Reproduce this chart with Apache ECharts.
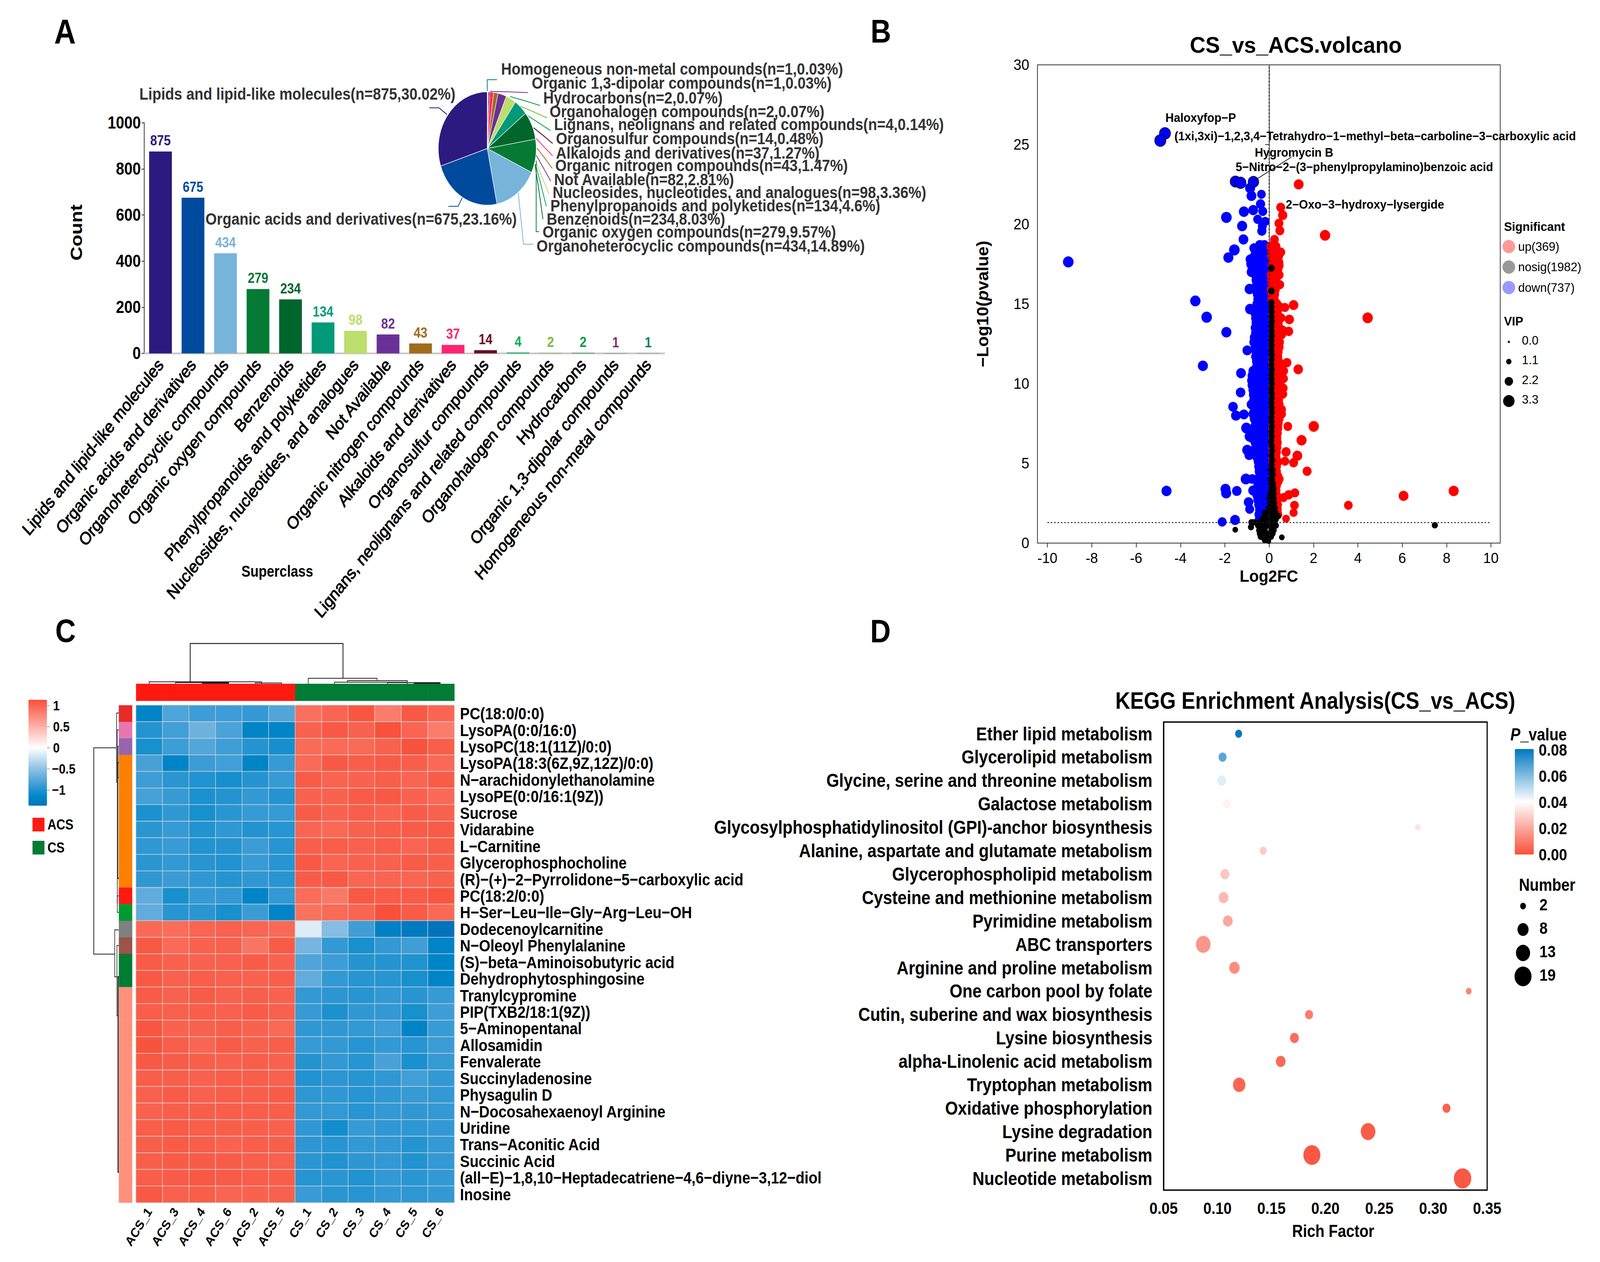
<!DOCTYPE html>
<html><head><meta charset="utf-8"><title>Metabolomics panels</title>
<script src="https://cdn.jsdelivr.net/npm/echarts@6/dist/echarts.min.js"></script>
<style>
html,body{margin:0;padding:0;background:#fff;overflow:hidden;width:100%;height:100%}
#tall{position:absolute;left:0;top:0;width:4282px;transform-origin:0 0}
#plain{position:absolute;left:0;top:0;width:4282px;height:3230px;transform-origin:0 0}
</style></head><body>
<div id="tall"></div><div id="plain"></div>
<script>
// ---------- Panel A ----------
const superclasses = ['Lipids and lipid-like molecules','Organic acids and derivatives','Organoheterocyclic compounds','Organic oxygen compounds','Benzenoids','Phenylpropanoids and polyketides','Nucleosides, nucleotides, and analogues','Not Available','Organic nitrogen compounds','Alkaloids and derivatives','Organosulfur compounds','Lignans, neolignans and related compounds','Organohalogen compounds','Hydrocarbons','Organic 1,3-dipolar compounds','Homogeneous non-metal compounds'];
const superCounts = [875,675,434,279,234,134,98,82,43,37,14,4,2,2,1,1];
const superPercents = ['30.02','23.16','14.89','9.57','8.03','4.6','3.36','2.81','1.47','1.27','0.48','0.14','0.07','0.07','0.03','0.03'];
const superColors = ['#2C1A80','#004A9E','#78B4DA','#047A35','#00662C','#009A78','#BDDD6C','#6B3097','#A06C1C','#FF2470','#6D0B24','#00B050','#7CBB3C','#009A44','#8E2A6F','#007E6A'];
// ---------- Panel C ----------
const heatSamples = ['ACS_1','ACS_3','ACS_4','ACS_6','ACS_2','ACS_5','CS_1','CS_2','CS_3','CS_4','CS_5','CS_6'];
const heatMetabolites = ['PC(18:0/0:0)','LysoPA(0:0/16:0)','LysoPC(18:1(11Z)/0:0)','LysoPA(18:3(6Z,9Z,12Z)/0:0)','N−arachidonylethanolamine','LysoPE(0:0/16:1(9Z))','Sucrose','Vidarabine','L−Carnitine','Glycerophosphocholine','(R)−(+)−2−Pyrrolidone−5−carboxylic acid','PC(18:2/0:0)','H−Ser−Leu−Ile−Gly−Arg−Leu−OH','Dodecenoylcarnitine','N−Oleoyl Phenylalanine','(S)−beta−Aminoisobutyric acid','Dehydrophytosphingosine','Tranylcypromine','PIP(TXB2/18:1(9Z))','5−Aminopentanal','Allosamidin','Fenvalerate','Succinyladenosine','Physagulin D','N−Docosahexaenoyl Arginine','Uridine','Trans−Aconitic Acid','Succinic Acid','(all−E)−1,8,10−Heptadecatriene−4,6−diyne−3,12−diol','Inosine'];
const heatValues = [
[-1.18,-.79,-.87,-.87,-.91,-.78,.93,1,1.1,.85,1.08,1],
[-.98,-.85,-.65,-.81,-1.18,-1.18,1.02,1.08,1.02,1.13,1,.85],
[-1.04,-.87,-.77,-.86,-.98,-1.05,.97,.97,.97,1.03,1.12,1.05],
[-.83,-1.18,-.88,-.85,-1.18,-.9,.97,1.08,1.05,1.06,1.04,.98],
[-.87,-.96,-1,-1.05,-.98,-.9,1.06,1.01,1.02,1.05,1,1.06],
[-.83,-.9,-1.02,-.98,-.92,-.98,1.02,1.02,1.06,1.08,1.02,.98],
[-1.02,-.93,-1.04,-.96,-.9,-.9,1.06,1.02,1.05,1.01,1.06,1.03],
[-.96,-.9,-1,-.93,-1,-.97,1,.98,1.03,1.05,1.06,1.07],
[-.93,-.89,-1,-.98,-.88,-.97,1.05,1.05,1.03,1.05,1,1.05],
[-.96,-.92,-.97,-1,-.89,-.97,1.08,1,1.03,1.03,1.07,1.04],
[-.93,-.88,-.93,-.98,-.93,-.97,1.06,1.08,1,1.01,1,1.03],
[-.71,-1.04,-.9,-.92,-1.18,-.92,.95,.87,1.08,1.06,1.06,1.1],
[-.71,-.97,-.96,-1.04,-.88,-1.2,.92,.97,1,1.15,1.07,.98],
[.98,.95,1,1.03,1,.98,-.15,-.54,-.86,-1.22,-1.28,-1.37],
[1.08,.97,1.02,1.03,.9,1.07,-.62,-.92,-1.04,-.92,-.86,-1.2],
[1.07,1.03,1.02,1.03,1.06,1.02,-.79,-.87,-.98,-.98,-1,-1.18],
[1.08,1.03,1.05,1.03,1.02,1.04,-.71,-.92,-.97,-.97,-1.04,-1.18],
[1.07,1.03,1.07,1.03,1.04,1.03,-.92,-.95,-.97,-.92,-.97,-.9],
[1.05,1.03,1.05,1.03,1.07,1.03,-.9,-1.02,-.93,-.92,-1.04,-.87],
[1.1,1.02,1.03,1.04,1.02,.98,-.93,-.93,-.92,-.87,-1.18,-.89],
[1.12,1.05,1,1.06,1.03,1.05,-.9,-.92,-.97,-.92,-.97,-.88],
[1.08,1.06,1.05,1.02,1.05,1.03,-.98,-.92,-.97,-.82,-1.03,-.9],
[1.04,1.04,1.03,1.05,1.05,1.03,-1,-.95,-.97,-.93,-.85,-.92],
[1.03,1.06,1.03,1.05,1.04,1.07,-.94,-.93,-.97,-.93,-.9,-.92],
[1.02,1.04,1.04,1.05,1.05,1.05,-.92,-.92,-.97,-.92,-.93,-.92],
[1.05,1.07,1.05,1.04,1.04,1.03,-.93,-1.06,-.9,-.93,-.94,-.92],
[1.04,1.07,1.05,1.02,1.05,1.04,-.94,-.97,-.92,-.92,-.98,-.91],
[1.04,1.07,1.06,1.06,1.04,1.03,-.96,-1,-.94,-.92,-1,-.92],
[1.05,1.06,1.08,1.06,1.05,1.04,-.97,-.96,-1,-.92,-.96,-.92],
[1.08,1.03,1.05,1,1.02,1.03,-.89,-.96,-.97,-.92,-.94,-.92]];
const rowClassColors = ['#E82A28','#E875AE','#9566AD','#FF7F00','#FF7F00','#FF7F00','#FF7F00','#FF7F00','#FF7F00','#FF7F00','#FF7F00','#FF1A10','#009A2F','#808080','#9A5548','#007C35','#007C35','#FF917A','#FF917A','#FF917A','#FF917A','#FF917A','#FF917A','#FF917A','#FF917A','#FF917A','#FF917A','#FF917A','#FF917A','#FF917A'];
const colClassColors = ['#FF1A10','#FF1A10','#FF1A10','#FF1A10','#FF1A10','#FF1A10','#007C35','#007C35','#007C35','#007C35','#007C35','#007C35'];
const heatTicks = [1,0.5,0,-0.5,-1];
const heatRamp = ['#0073BD','#0088CA','#3399D4','#66AEDD','#99C6E6','#CCE2F2','#FFFFFF','#FEDCD8','#FCB9B0','#FB9689','#F97361','#F8503A'];
// ---------- Panel D ----------
const pathways = ['Ether lipid metabolism','Glycerolipid metabolism','Glycine, serine and threonine metabolism','Galactose metabolism','Glycosylphosphatidylinositol (GPI)-anchor biosynthesis','Alanine, aspartate and glutamate metabolism','Glycerophospholipid metabolism','Cysteine and methionine metabolism','Pyrimidine metabolism','ABC transporters','Arginine and proline metabolism','One carbon pool by folate','Cutin, suberine and wax biosynthesis','Lysine biosynthesis','alpha-Linolenic acid metabolism','Tryptophan metabolism','Oxidative phosphorylation','Lysine degradation','Purine metabolism','Nucleotide metabolism'];
const richFactor = [.1196,.1047,.1039,.1087,.2856,.1424,.1069,.1056,.1096,.0868,.1157,.3329,.1849,.1713,.1586,.1201,.3123,.2396,.1875,.3272];
const pathwayNumber = [3,4,5,4,2,3,5,6,6,14,7,2,4,5,6,10,4,14,19,20];
const pathwayP = [.08,.066,.045,.037,.034,.028,.027,.024,.02,.016,.014,.012,.01,.007,.006,.005,.004,.003,.002,.002];
const richTicks = [2,8,13,19];
const pTicks = ['0.08','0.06','0.04','0.02','0.00'];
// ---------- Panel B : [log2FC, -log10(p), VIP (optional)] ----------
const volcanoLabelled = [[-4.7,25.7,3.2],[-4.91,25.25,3.2],[-1.52,22.68,3],[-1.29,22.6,3.1],[-.71,22.66,3]];
const volcanoDownSparse = [[-9.06,17.64,3],[-3.33,15.19,2.9],[-2.82,14.17,3],[-1.93,13.23,2.8],[-2.99,11.12,2.8],[-4.63,3.27,2.8],[-1.93,20.43,3],[-1.22,19.89,2.8],[-1.14,20.79,2.8],[-.72,20.89,2.7],[-1.16,19.05,2.7],[-1.57,18.39,3],[-1.84,17.91,2.8],[-.35,21.88,2.3],[-.86,22.27,2.8],[-.8,21.78,2.7],[-.39,21.27,2.5],[-.29,20.81,2.4],[-.52,20.31,2.4],[-.18,20.18,2.3],[-.31,19.87,2.4],[-.33,19.58,2.5],[-.88,15.94,2.8],[-.86,14.68,2.8],[-.99,12.09,2.6],[-1.27,10.66,2.7],[-1.29,9.45,2.6],[-1.63,8.55,2.6],[-1.5,8,2.7],[-1.14,8.07,2.6],[-1.03,7.22,2.9],[-.88,6.69,2.8],[-.99,5.84,2.8],[-.9,5.52,2.6],[-1.05,4.02,2.9],[-.76,4.02,2.5],[-1.97,3.39,2.8],[-1.94,3.13,2.8],[-1.46,3.27,2.6],[-2.12,1.33,2.4],[-1.54,1.45,2.7],[-.93,2.57,2.6],[-.88,2.13,2.4],[-.73,3.3,2.6],[-.25,4.4,2.5]];
const volcanoDownDense = [[-.42,18.7],[-.22,18.7],[-.68,18.5],[-.5,18.5],[-.2,18.5],[-.6,18.3],[-.38,18.3],[-.15,18.3],[-.66,18],[-.42,18],[-.14,18],[-.85,17.8],[-.5,17.8],[-.16,17.8],[-.82,17.5],[-.45,17.5],[-.15,17.5],[-.76,17.2],[-.4,17.2],[-.14,17.2],[-.8,17],[-.48,17],[-.16,17],[-.6,16.8],[-.36,16.8],[-.14,16.8],[-.58,16.5],[-.33,16.5],[-.13,16.5],[-.56,16.2],[-.34,16.2],[-.15,16.2],[-.62,15.9],[-.38,15.9],[-.14,15.9],[-.52,15.6],[-.33,15.6],[-.13,15.6],[-.5,15.3],[-.3,15.3],[-.14,15.3],[-.54,15],[-.32,15],[-.13,15],[-.58,14.7],[-.34,14.7],[-.15,14.7],[-.62,14.4],[-.36,14.4],[-.13,14.4],[-.6,14.1],[-.37,14.1],[-.14,14.1],[-.58,13.8],[-.33,13.8],[-.14,13.8],[-.62,13.5],[-.38,13.5],[-.15,13.5],[-.6,13.2],[-.36,13.2],[-.13,13.2],[-.66,12.9],[-.4,12.9],[-.14,12.9],[-.68,12.6],[-.42,12.6],[-.15,12.6],[-.62,12.3],[-.37,12.3],[-.14,12.3],[-.58,12],[-.34,12],[-.13,12],[-.6,11.7],[-.36,11.7],[-.15,11.7],[-.56,11.4],[-.33,11.4],[-.14,11.4],[-.55,11.1],[-.35,11.1],[-.13,11.1],[-.72,10.8],[-.42,10.8],[-.15,10.8],[-.76,10.5],[-.44,10.5],[-.16,10.5],[-.78,10.2],[-.46,10.2],[-.15,10.2],[-.76,9.9],[-.42,9.9],[-.14,9.9],[-.72,9.6],[-.44,9.6],[-.15,9.6],[-.7,9.3],[-.4,9.3],[-.14,9.3],[-.68,9],[-.38,9],[-.15,9],[-.8,8.7],[-.46,8.7],[-.16,8.7],[-.66,8.4],[-.38,8.4],[-.14,8.4],[-.72,8.1],[-.4,8.1],[-.15,8.1],[-.66,7.8],[-.36,7.8],[-.13,7.8],[-.6,7.5],[-.34,7.5],[-.14,7.5],[-.7,7.2],[-.38,7.2],[-.14,7.2],[-.82,6.9],[-.44,6.9],[-.15,6.9],[-.78,6.6],[-.4,6.6],[-.14,6.6],[-.62,6.3],[-.36,6.3],[-.13,6.3],[-.6,6],[-.35,6],[-.14,6],[-.58,5.7],[-.33,5.7],[-.13,5.7],[-.55,5.4],[-.3,5.4],[-.13,5.4],[-.48,5.1],[-.28,5.1],[-.12,5.1],[-.46,4.8],[-.27,4.8],[-.11,4.8],[-.44,4.5],[-.26,4.5],[-.1,4.5],[-.42,4.2],[-.25,4.2],[-.11,4.2],[-.46,3.9],[-.26,3.9],[-.12,3.9],[-.5,3.6],[-.28,3.6],[-.13,3.6],[-.56,3.3],[-.3,3.3],[-.15,3.3],[-.54,3],[-.3,3],[-.16,3],[-.5,2.7],[-.28,2.7],[-.16,2.7],[-.46,2.4],[-.25,2.4],[-.18,2.4],[-.42,2.1],[-.25,2.1],[-.45,1.8],[-.3,1.8],[-.43,1.5]];
const volcanoUpSparse = [[1.33,22.5,2.7],[.52,21.06,2.4],[.61,20.57,2.5],[.44,20.06,2.4],[.48,19.6,2.4],[2.52,19.31,2.9],[.24,19.05,2.3],[.52,18.25,2.4],[.44,17.59,2.4],[.46,16.82,2.2],[.48,16.21,2.3],[1.1,14.93,2.6],[.71,14.78,2.3],[.5,14.8,2.3],[4.44,14.13,2.9],[.91,14.03,2.5],[.54,14.13,2.3],[.88,13.28,2.4],[.61,13.35,2.4],[.56,13.08,2.4],[.8,11.32,2.4],[1.31,10.9,2.6],[.65,10.8,2.4],[.65,10.32,2.3],[.63,9.72,2.4],[.61,9.35,2.4],[.56,8.38,2.3],[.56,8.09,2.3],[2.01,7.32,2.9],[.84,7.32,2.3],[1.46,6.45,2.8],[.76,5.72,2.5],[1.27,5.48,2.7],[.71,5.14,2.3],[1.1,5.04,2.4],[1.71,4.51,2.4],[.46,4.02,2.2],[1.16,3.15,2.3],[.88,3.03,2.4],[.65,2.86,2.3],[8.32,3.27,2.8],[6.06,2.96,2.7],[3.57,2.37,2.3],[1.14,2.37,2.3],[1.1,1.91,2.1],[.76,1.53,1.9]];
const volcanoUpDense = [[.1,18.6],[.28,18.6],[.16,18.3],[.36,18.3],[.14,18],[.4,18],[.2,17.7],[.38,17.7],[.16,17.4],[.42,17.4],[.18,17.1],[.36,17.1],[.12,16.8],[.3,16.8],[.14,16.5],[.28,16.5],[.16,16.2],[.3,16.2],[.12,15.9],[.25,15.9],[.16,15.6],[.22,15.6],[.15,15.3],[.2,15.3],[.2,15],[.32,15],[.2,14.7],[.38,14.7],[.18,14.4],[.34,14.4],[.2,14.1],[.4,14.1],[.22,13.8],[.38,13.8],[.2,13.5],[.42,13.5],[.22,13.2],[.45,13.2],[.2,12.9],[.4,12.9],[.22,12.6],[.44,12.6],[.2,12.3],[.42,12.3],[.22,12],[.38,12],[.2,11.7],[.36,11.7],[.18,11.4],[.4,11.4],[.2,11.1],[.44,11.1],[.22,10.8],[.48,10.8],[.2,10.5],[.46,10.5],[.22,10.2],[.5,10.2],[.2,9.9],[.44,9.9],[.22,9.6],[.48,9.6],[.2,9.3],[.42,9.3],[.22,9],[.4,9],[.2,8.7],[.42,8.7],[.22,8.4],[.44,8.4],[.2,8.1],[.46,8.1],[.2,7.8],[.42,7.8],[.2,7.5],[.38,7.5],[.18,7.2],[.36,7.2],[.2,6.9],[.34,6.9],[.18,6.6],[.32,6.6],[.2,6.3],[.34,6.3],[.18,6],[.32,6],[.2,5.7],[.3,5.7],[.18,5.4],[.28,5.4],[.2,5.1],[.36,5.1],[.2,4.8],[.3,4.8],[.22,4.5],[.3,4.5],[.24,4.2],[.36,4.2],[.24,3.9],[.38,3.9],[.26,3.6],[.3,3.6],[.28,3.3],[.3,3],[.32,2.7],[.28,2.7],[.35,2.4],[.34,2.1],[.36,1.8]];
const volcanoNosig = [[.1,17.25,1.6],[.1,15.82,1.6],[7.47,1.12,1.4],[.1,15.1],[.1,14.8],[.11,14.5],[.1,14.2],[.12,13.9],[.1,13.6],[.11,13.3],[.12,13],[.1,12.7],[.11,12.4],[.1,12.1],[.12,11.8],[.11,11.5],[.1,11.2],[.12,10.9],[.1,10.6],[.11,10.3],[.12,10],[.1,9.7],[.11,9.4],[.12,9.1],[.1,8.8],[.11,8.5],[.12,8.2],[.1,7.9],[.11,7.6],[.12,7.3],[.1,7],[.11,6.7],[.09,6.4],[.12,6.1],[.13,5.8],[.1,5.5],[.14,5.2],[.11,4.9],[.15,4.6],[.08,4.6],[.12,4.3],[.16,4.3],[.13,4],[.07,4],[.18,3.7],[.1,3.7],[.1,3.4],[.2,3.4],[.14,3.1],[.05,3.1],[.2,3.1],[.12,2.8],[.02,2.8],[.2,2.8],[.15,2.5],[.05,2.5],[.22,2.5],[.18,2.2],[0,2.2],[.25,2.2],[-.05,1.9],[.1,1.9],[.28,1.9],[-.2,1.9],[-.2,1.7],[.3,1.7],[.1,1.7],[.4,1.7],[-.3,1.5],[-.1,1.5],[.15,1.5],[.3,1.5],[-.8,1.3],[-.7,1.3],[-.45,1.3],[-.2,1.3],[.05,1.3],[.25,1.3],[-.5,1.1],[-.3,1.1],[-.05,1.1],[.2,1.1],[.3,1.1],[-.82,1],[-.45,.8],[-.2,.8],[.1,.8],[.2,.8],[-1.53,.84,1.2],[-.42,.6],[-.15,.6],[.05,.6],[.15,.6],[-.38,.4],[-.1,.4],[.08,.4],[.57,.36,1.2],[-.2,.2],[-.05,.2],[-.02,.1,.9]];
const fcTicks = [-10,-8,-6,-4,-2,0,2,4,6,8,10];
const vipTicks = [0,1.1,2.2,3.3];
const sigLegend = ['up(369)','nosig(1982)','down(737)'];
const sigColors = ['#FF9999','#999999','#9999FF'];

// ---------- layout helpers ----------
// Layout is written in the figure's 4282-wide pixels; the window may be narrower, so fit it.
const FIT_X = window.innerWidth / 4282;
const STRETCH = 1.107;              // A, C and D are taller than wide in the source figure
const FONT = '"Liberation Sans",Arial,sans-serif';
const Y = v => v / STRETCH;
const tallEl = document.getElementById('tall'), plainEl = document.getElementById('plain');
tallEl.style.height = Y(3230) + 'px';
tallEl.style.transform = `scale(${FIT_X},${STRETCH})`;
plainEl.style.transform = `scale(${FIT_X},1)`;
const T = (text, x, y, o = {}, toY = Y) => ({type:'text', x, y:toY(y), rotation:o.rot || 0, z:20,
  style:{text, fill:o.color || '#000', textAlign:o.align || 'left', textVerticalAlign:'middle',
    font:`${o.style||''} ${o.weight||'bold'} ${o.size||40}px ${FONT}`, rich:o.rich}});
const L = (pts, o = {}, toY = Y) => ({type:'polyline', z:15, shape:{points:pts.map(p => [p[0], toY(p[1])])},
  style:{stroke:o.color || '#222', fill:null, lineWidth:o.w || 1.6}});
const R = (x, y, w, h, color) => ({type:'rect', z:10, shape:{x, y:Y(y), width:w, height:Y(h)}, style:{fill:color}});
const C = (cx, cy, r, color, toY = Y) => ({type:'circle', z:10, shape:{cx, cy:toY(cy), r}, style:{fill:color}});

// ---------- stretched chart : panels A, C, D ----------
const gridA = {left:386, top:Y(314), width:1392, height:Y(590.5)};
const heatBox = {x:364, y:1805, w:852, h:1273};
const gridC = {left:heatBox.x, top:Y(heatBox.y), width:heatBox.w, height:Y(heatBox.h)};
const gridD = {left:3114, top:Y(1848), width:866, height:Y(1198), show:true, borderColor:'#000', borderWidth:3, backgroundColor:'transparent'};

const pieLayout = { // label left x, label centre y, leader line in figure pixels
  'Homogeneous non-metal compounds':[1341,176,[[1304,233],[1304,204],[1330,204]]],
  'Organic 1,3-dipolar compounds':[1423,212,[[1310,234],[1360,235],[1413,237]]],
  'Hydrocarbons':[1454,250,[[1365,247],[1405,258],[1445,270]]],
  'Organohalogen compounds':[1471,285,[[1393,272],[1430,287],[1464,302]]],
  'Lignans, neolignans and related compounds':[1483,318,[[1414,297],[1444,316],[1473,334]]],
  'Organosulfur compounds':[1488,354,[[1428,327],[1454,347],[1479,367]]],
  'Alkaloids and derivatives':[1488,391,[[1435,354],[1457,377],[1479,399]]],
  'Organic nitrogen compounds':[1486,423,[[1437,379],[1458,405],[1478,431]]],
  'Not Available':[1483,459,[[1435,397],[1455,431],[1474,464]]],
  'Nucleosides, nucleotides, and analogues':[1479,492,[[1435,415],[1452,456],[1469,496]]],
  'Phenylpropanoids and polyketides':[1473,526,[[1433,420],[1448,474],[1462,528]]],
  'Benzenoids':[1463,560,[[1432,422],[1443,492],[1453,561]]],
  'Organic oxygen compounds':[1452,593,[[1435,411],[1435,593],[1443,593]]],
  'Organoheterocyclic compounds':[1436,629,[[1387,493],[1401,625],[1427,625]]],
  'Organic acids and derivatives':[550,560,[[1237,506],[1226,528],[1200,528]]],
  'Lipids and lipid-like molecules':[373,240,[[1196,293],[1175,276],[1149,276]]]
};
const pieData = superclasses.map((name,i)=>({name, value:superCounts[i], pct:superPercents[i], itemStyle:{color:superColors[i]}})).reverse();

const heatData = [];
heatValues.forEach((row,r)=>row.forEach((v,c)=>heatData.push([c,r,v])));

const rowH = heatBox.h / heatMetabolites.length, colW = heatBox.w / heatSamples.length;
const heatTickY = v => 1914 - v * 108;
const numSize = n => 10.2 * Math.sqrt(n) + 1;

const tallGraphic = [
  T('A',145,82,{size:80}), T('B',2330,80,{size:76}), T('C',148,1614,{size:76}), T('D',2329,1615,{size:76}),
  T('Count',204,595,{size:45,rot:Math.PI/2,align:'center'}),
  T('Superclass',742,1462,{size:36,align:'center'}),
  // panel C annotation strips
  ...rowClassColors.map((c,i)=>R(318, heatBox.y + i*rowH, 36, rowH+.5, c)),
  ...colClassColors.map((c,i)=>R(heatBox.x + i*colW, 1750, colW+.5, 44, c)),
  // panel C dendrograms
  L([[509,1744],[509,1647],[918,1647],[918,1737]],{w:2.2}),
  L([[399,1750],[399,1745],[700,1745],[700,1750]]), L([[470,1750],[470,1747],[612,1747],[612,1750]]), L([[541,1750],[541,1749],[612,1749]]), L([[683,1750],[683,1748],[754,1748],[754,1750]]),
  L([[825,1750],[825,1736],[1009,1736],[1009,1743]]), L([[895,1750],[895,1746],[1090,1746],[1090,1750]]), L([[930,1746],[930,1742],[1090,1742],[1090,1746]]), L([[1037,1750],[1037,1747],[1178,1747],[1178,1750]]), L([[1108,1750],[1108,1749],[1178,1749]]),
  L([[311,1914],[251,1914],[251,2442],[308,2442]],{w:2}),
  L([[318,1825],[312,1825],[312,2003]]), L([[318,1868],[314,1868],[314,2138]]), L([[318,1910],[316,1910],[316,1990],[318,1990]]), L([[318,1952],[315,1952],[315,2248],[318,2248]],{w:2.6,color:'#222'}),
  L([[318,2293],[314,2293],[314,2335],[318,2335]]), L([[314,2138],[314,2314]]),
  L([[318,2380],[307,2380],[307,2500],[313,2500]]), L([[318,2420],[313,2420],[313,2600],[316,2600]]), L([[318,2500],[316,2500],[316,3000],[318,3000]],{w:2.6,color:'#111'}),
  // panel C legend
  ...heatTicks.map(v=>T(String(v).replace('-','−'),v<0?139:142,heatTickY(v),{size:32})),
  ...heatTicks.map(v=>L([[126,heatTickY(v)],[133,heatTickY(v)]],{color:'#999'})),
  R(87,2093,32,35,'#FF1A10'), R(87,2152,32,35,'#007C35'),
  T('ACS',127,2110,{size:33}), T('CS',127,2169,{size:33}),
  // panel D axis title and legends
  T('Rich Factor',3568,3151,{size:40,align:'center'}),
  T('{i|P}_value',4042,1880,{size:40,rich:{i:{fontStyle:'italic',fontWeight:'bold',fontSize:40,fontFamily:FONT}}}),
  ...pTicks.map((s,i)=>T(s,4118,1919.5+i*67,{size:39})),
  ...pTicks.map((s,i)=>L([[4105,1919+i*67],[4112,1919+i*67]],{color:'#fff'})),
  T('Number',4065,2265,{size:40}),
  ...richTicks.map((n,i)=>C(4076,2319+i*60,numSize(n)/2,'#000')),
  ...richTicks.map((n,i)=>T(String(n),4120,2315+i*60,{size:39}))
];

const tallOption = {
  animation:false, backgroundColor:'transparent', textStyle:{fontFamily:FONT},
  title:{text:'KEGG Enrichment Analysis(CS_vs_ACS)', left:3520, top:Y(1793)-28, textAlign:'center', padding:0,
    textStyle:{fontSize:55,fontWeight:'bold',color:'#000',fontFamily:FONT}},
  grid:[gridA,gridC,gridD],
  xAxis:[
    {gridIndex:0,type:'category',data:superclasses,
      axisLine:{lineStyle:{color:'#c8c8c8',width:4}},axisTick:{alignWithLabel:true,length:8,lineStyle:{color:'#333',width:2}},
      axisLabel:{interval:0,rotate:47.5,fontSize:40.5,margin:19,color:'#000',fontFamily:FONT,textBorderColor:'#000',textBorderWidth:1.3}},
    {gridIndex:1,type:'category',data:heatSamples,axisLine:{show:false},axisTick:{show:false},splitLine:{show:false},
      axisLabel:{interval:0,rotate:55,fontSize:31,fontWeight:'bold',margin:15,color:'#000',fontFamily:FONT}},
    {gridIndex:2,type:'value',min:.05,max:.35,interval:.05,splitLine:{show:false},
      axisLine:{lineStyle:{color:'#000',width:3}},axisTick:{length:10,lineStyle:{color:'#444',width:2}},
      axisLabel:{fontSize:39,fontWeight:'bold',color:'#000',margin:22,formatter:v=>v.toFixed(2),fontFamily:FONT}}
  ],
  yAxis:[
    {gridIndex:0,type:'value',min:0,max:1000,interval:200,splitLine:{show:false},
      axisLine:{show:true,lineStyle:{color:'#333',width:2}},axisTick:{show:true,length:7,lineStyle:{color:'#333',width:2}},
      axisLabel:{fontSize:40,fontWeight:'bold',color:'#000',margin:9,fontFamily:FONT,formatter:v=>String(v)}},
    {gridIndex:1,type:'category',data:heatMetabolites,inverse:true,position:'right',axisLine:{show:false},axisTick:{show:false},splitLine:{show:false},
      axisLabel:{interval:0,fontSize:39,fontWeight:'bold',color:'#000',margin:15,fontFamily:FONT}},
    {gridIndex:2,type:'category',data:pathways,inverse:true,splitLine:{show:false},
      axisLine:{show:true,lineStyle:{color:'#000',width:3}},axisTick:{alignWithLabel:true,length:14,lineStyle:{color:'#777',width:2}},
      axisLabel:{interval:0,fontSize:44,fontWeight:'bold',color:'#000',margin:30,fontFamily:FONT}}
  ],
  visualMap:[
    {type:'continuous',seriesIndex:2,dimension:2,min:-1.37,max:1.14,left:76,top:Y(1791),itemWidth:50,itemHeight:Y(271),padding:0,
      inRange:{color:heatRamp},calculable:false,hoverLink:false,text:null,showLabel:false,textStyle:{color:'transparent'}},
    {type:'continuous',seriesIndex:3,dimension:3,min:0,max:.08,left:4054,top:Y(1917),itemWidth:51,itemHeight:Y(270),padding:0,
      inRange:{color:['#F9503A','#FFFFFF','#0078C0']},calculable:false,hoverLink:false,text:null,textStyle:{color:'transparent'}}
  ],
  series:[
    {type:'bar',xAxisIndex:0,yAxisIndex:0,barWidth:'70%',
      data:superCounts.map((v,i)=>({value:v,itemStyle:{color:superColors[i]},label:{color:superColors[i]}})),
      label:{show:true,position:'top',distance:9,fontSize:33,fontWeight:'bold',fontFamily:FONT}},
    {type:'pie',center:[1304,Y(380)],radius:131,startAngle:90,clockwise:true,avoidLabelOverlap:false,silent:true,
      data:pieData,itemStyle:{borderColor:'#fff',borderWidth:1.2},
      label:{show:true,position:'outside',fontSize:39,fontWeight:'bold',color:'#333',fontFamily:FONT,
        formatter:p=>`${p.name}(n=${p.value},${p.data.pct}%)`},
      labelLine:{show:true,length:10,length2:10,smooth:false,lineStyle:{width:2}},
      labelLayout:p=>{const d=pieData[p.dataIndex], k=pieLayout[d.name];
        return {x:k[0],y:Y(k[1]),align:'left',verticalAlign:'middle',labelLinePoints:k[2].map(q=>[q[0],Y(q[1])])};}},
    {type:'heatmap',xAxisIndex:1,yAxisIndex:1,data:heatData,itemStyle:{borderColor:'rgba(215,215,215,.85)',borderWidth:1.6},silent:true},
    {type:'scatter',xAxisIndex:2,yAxisIndex:2,
      data:pathways.map((_,i)=>[richFactor[i],i,pathwayNumber[i],pathwayP[i]]),
      symbolSize:d=>numSize(d[2]),itemStyle:{opacity:1},silent:true},
  ],
  graphic:{elements:tallGraphic}
};
const tall = echarts.init(tallEl,null,{renderer:'svg',width:4282,height:Y(3230)});
tall.setOption(tallOption);

// ---------- plain chart : panel B (drawn at true aspect) ----------
const P = v => v;
const vipSize = v => 6 + 7.5 * (v === undefined ? 2.6 : v);
const vipSizeBy = def => d => 6 + 7.5 * (d[2] === undefined ? def : d[2]);
const plainGraphic = [
  T('Haloxyfop−P',3119,301,{size:31},P),
  T('(1xi,3xi)−1,2,3,4−Tetrahydro−1−methyl−beta−carboline−3−carboxylic acid',3143,348,{size:31},P),
  T('Hygromycin B',3358,390,{size:31},P),
  T('5−Nitro−2−(3−phenylpropylamino)benzoic acid',3307,427,{size:31},P),
  T('2−Oxo−3−hydroxy−lysergide',3441,523,{size:31},P),
  L([[3456,402],[3354,464]],{w:1.6,color:'#000'},P),
  T('Significant',4025,580,{size:32},P),
  ...sigLegend.map((s,i)=>C(4038,631+i*52.5,17,sigColors[i],P)),
  ...sigLegend.map((s,i)=>T(s,4063,631+i*52.5,{size:32,weight:'normal'},P)),
  T('VIP',4025,822,{size:32},P),
  ...vipTicks.map((v,i)=>C(4038,875+i*50.5,vipSize(v)/2,'#000',P)),
  ...vipTicks.map((v,i)=>T(v.toFixed(1),4073,871+i*50.5,{size:32,weight:'normal'},P))
];
const plainOption = {
  animation:false, backgroundColor:'transparent', textStyle:{fontFamily:FONT},
  title:{text:'CS_vs_ACS.volcano',left:3468,top:86,textAlign:'center',padding:0,textStyle:{fontSize:58,fontWeight:'bold',color:'#000',fontFamily:FONT}},
  grid:{left:2776.5,top:166,width:1238.5,height:1224,show:true,borderColor:'#333',borderWidth:2,backgroundColor:'transparent'},
  xAxis:{type:'value',min:-10.45,max:10.42,name:'Log2FC',nameLocation:'middle',nameGap:64,
    nameTextStyle:{fontSize:42,fontWeight:'bold',color:'#000',fontFamily:FONT},splitLine:{show:false},
    axisLine:{lineStyle:{color:'#333',width:2}},
    axisTick:{length:11,lineStyle:{color:'#333',width:2},customValues:fcTicks},
    axisLabel:{fontSize:37,color:'#000',margin:20,customValues:fcTicks,fontFamily:FONT}},
  yAxis:{type:'value',min:0,max:30,interval:5,name:'{b|−Log10(}{i|p}{b|value)}',nameLocation:'middle',nameGap:125,
    nameTextStyle:{rich:{b:{fontSize:44,fontWeight:'bold',color:'#000',fontFamily:FONT},i:{fontSize:44,fontWeight:'bold',fontStyle:'italic',color:'#000',fontFamily:FONT}}},
    splitLine:{show:false},axisLine:{show:true,lineStyle:{color:'#333',width:2}},
    axisTick:{show:true,length:11,lineStyle:{color:'#333',width:2}},
    axisLabel:{fontSize:38,color:'#000',margin:22,fontFamily:FONT}},
  series:[
    {type:'scatter',name:'down',data:volcanoDownDense.concat(volcanoDownSparse),symbolSize:vipSizeBy(2.6),itemStyle:{color:'#0000FF',opacity:1},silent:true,
      markLine:{silent:true,symbol:'none',label:{show:false},lineStyle:{type:[4,5],color:'#222',width:2.5,opacity:1},
        data:[{xAxis:0},[{coord:[-10,1.3]},{coord:[10,1.3]}]]}},
    {type:'scatter',name:'labelled',data:volcanoLabelled,symbolSize:vipSizeBy(3),itemStyle:{color:'#0000FF',borderColor:'#111',borderWidth:1.6,opacity:1},silent:true},
    {type:'scatter',name:'up',data:volcanoUpDense.concat(volcanoUpSparse),symbolSize:vipSizeBy(2.8),itemStyle:{color:'#FF0000',opacity:1},silent:true},
    {type:'scatter',name:'nosig',data:volcanoNosig,symbolSize:vipSizeBy(1.4),itemStyle:{color:'#000',opacity:1},silent:true}
  ],
  graphic:{elements:plainGraphic}
};
const plain = echarts.init(plainEl,null,{renderer:'svg',width:4282,height:3230});
plain.setOption(plainOption);
</script>
</body></html>
